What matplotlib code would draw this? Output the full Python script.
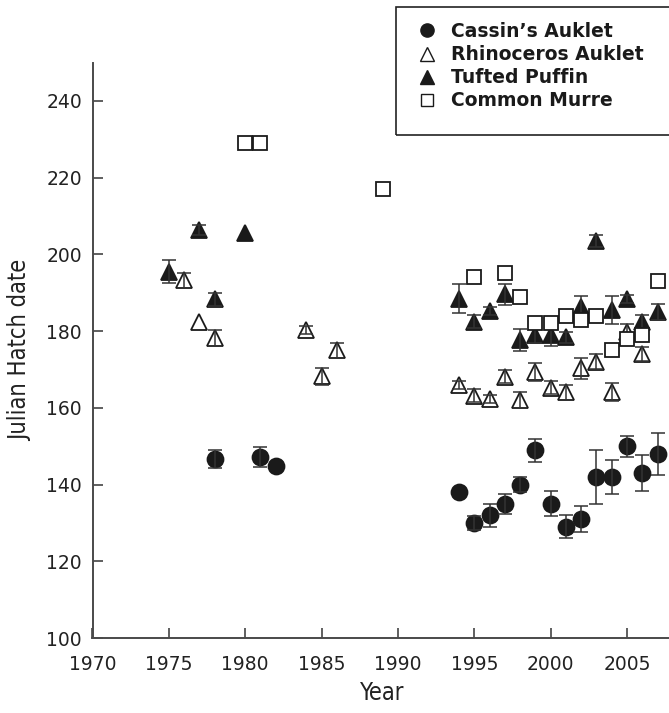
import matplotlib
matplotlib.use('Agg')
import matplotlib.pyplot as plt
from matplotlib.lines import Line2D
from matplotlib.patches import Rectangle
import numpy as np

# Cassin's Auklet
ca_year = [1978, 1981, 1982, 1994, 1995, 1996, 1997, 1998, 1999, 2000, 2001, 2002, 2003, 2004, 2005, 2006, 2007]
ca_date = [146.6, 147.2, 144.8, 138, 130, 132, 135, 140, 149, 135, 129, 131, 142, 142, 150, 143, 148]
ca_err = [2.4, 2.7, 0, 0, 1.8, 3, 2.6, 2, 3, 3.3, 3, 3.3, 7, 4.5, 2.7, 4.7, 5.5]

# Rhinoceros Auklet
ra_year = [1976, 1977, 1978, 1984, 1985, 1986, 1994, 1995, 1996, 1997, 1998, 1999, 2000, 2001, 2002, 2003, 2004, 2005, 2006]
ra_date = [193.2, 182.3, 178.2, 180.3, 168.2, 175.0, 166, 163.2, 162.3, 168.1, 162, 169.3, 165.3, 164, 170.3, 172, 164.2, 179.8, 174]
ra_err = [2, 0, 2, 1, 2.3, 2, 1, 1.8, 1, 1.7, 2, 2.3, 1.7, 2, 2.7, 2, 2.3, 2, 1.9]

# Tufted Puffin
tp_year = [1975, 1977, 1978, 1980, 1994, 1995, 1996, 1997, 1998, 1999, 2000, 2001, 2002, 2003, 2004, 2005, 2006, 2007]
tp_date = [195.5, 206.4, 188.3, 205.7, 188.5, 182.5, 185.2, 189.6, 177.7, 179, 179, 178.4, 186.4, 203.5, 185.5, 188.3, 182.5, 185]
tp_err = [3, 1.3, 1.7, 0, 3.9, 1.6, 1, 2.7, 2.9, 2, 3, 1.5, 2.8, 1.6, 3.6, 1, 1.7, 2]

# Common Murre
cm_year = [1980, 1981, 1989, 1995, 1997, 1998, 1999, 2000, 2001, 2002, 2003, 2004, 2005, 2006, 2007]
cm_date = [229, 229, 217, 194, 195.1, 189, 182, 182, 184, 183, 184, 175.1, 177.9, 179, 193.1]

labels = ["Cassin\u2019s Auklet", "Rhinoceros Auklet", "Tufted Puffin", "Common Murre"]

ink = '#1a1a1a'
W, H = 669, 713
fig = plt.figure(figsize=(W / 100, H / 100), dpi=100)
ax = fig.add_axes([92.5 / W, 75 / H, 580.3 / W, 575.4 / H])


def draw(years, vals, errs, marker, face, size, z):
    years = np.array(years)
    vals = np.array(vals)
    ax.plot(years, vals, linestyle='none', marker=marker, markersize=size,
            markerfacecolor=face, markeredgecolor=ink, markeredgewidth=1.3, zorder=z)
    if errs is not None:
        errs = np.array(errs)
        m = errs > 0
        ax.errorbar(years[m], vals[m], yerr=errs[m], fmt='none', ecolor='#333333',
                    elinewidth=1.1, capsize=5, capthick=1.1, zorder=z + 0.5)


draw(ca_year, ca_date, ca_err, 'o', ink, 11.5, 3)
draw(ra_year, ra_date, ra_err, '^', 'none', 11.5, 3)
draw(tp_year, tp_date, tp_err, '^', ink, 11.5, 4)
draw(cm_year, cm_date, None, 's', 'white', 10, 6)

ax.set_xlim(1970, 2008)
ax.set_ylim(100, 250)
ax.set_xticks(range(1970, 2006, 5))
ax.set_yticks(range(100, 241, 20))
for s in ['top', 'right']:
    ax.spines[s].set_visible(False)
for s in ['left', 'bottom']:
    ax.spines[s].set_color('#4a4a4a')
    ax.spines[s].set_linewidth(1.4)
ax.tick_params(direction='in', length=7, width=1.2, color='#444444',
               labelsize=13.5, labelcolor='#222222')
ax.tick_params(axis='x', pad=12)
ax.tick_params(axis='y', pad=7.5)

ax.set_xlabel('Year', fontsize=17, family='DejaVu Sans', fontstretch='condensed', color='#222222', labelpad=5)
ax.set_ylabel('Julian Hatch date', fontsize=17, family='DejaVu Sans', fontstretch='condensed', color='#222222', labelpad=10)

handles = [
    Line2D([], [], linestyle='none', marker='o', markersize=9.5, markerfacecolor=ink, markeredgecolor=ink),
    Line2D([], [], linestyle='none', marker='^', markersize=9.5, markerfacecolor='white', markeredgecolor=ink, markeredgewidth=1),
    Line2D([], [], linestyle='none', marker='^', markersize=9.5, markerfacecolor=ink, markeredgecolor=ink),
    Line2D([], [], linestyle='none', marker='s', markersize=8, markerfacecolor='white', markeredgecolor=ink, markeredgewidth=1),
]
leg = fig.legend(handles, labels, loc='upper left', bbox_to_anchor=(418 / W, 1 - 22 / H),
                 frameon=False, borderpad=0, borderaxespad=0,
                 handlelength=1.0, handletextpad=0.75, labelspacing=0.22,
                 prop={'family': 'DejaVu Sans', 'weight': 'bold', 'size': 13.5})
for t in leg.get_texts():
    t.set_color('#1a1a1a')

# legend frame, running off the right edge as in the original
fig.patches.append(Rectangle((396 / W, 1 - 135 / H), 300 / W, 128 / H, transform=fig.transFigure,
                             facecolor='none', edgecolor='#222222', linewidth=1.2))

fig.savefig('out.png', dpi=100)
